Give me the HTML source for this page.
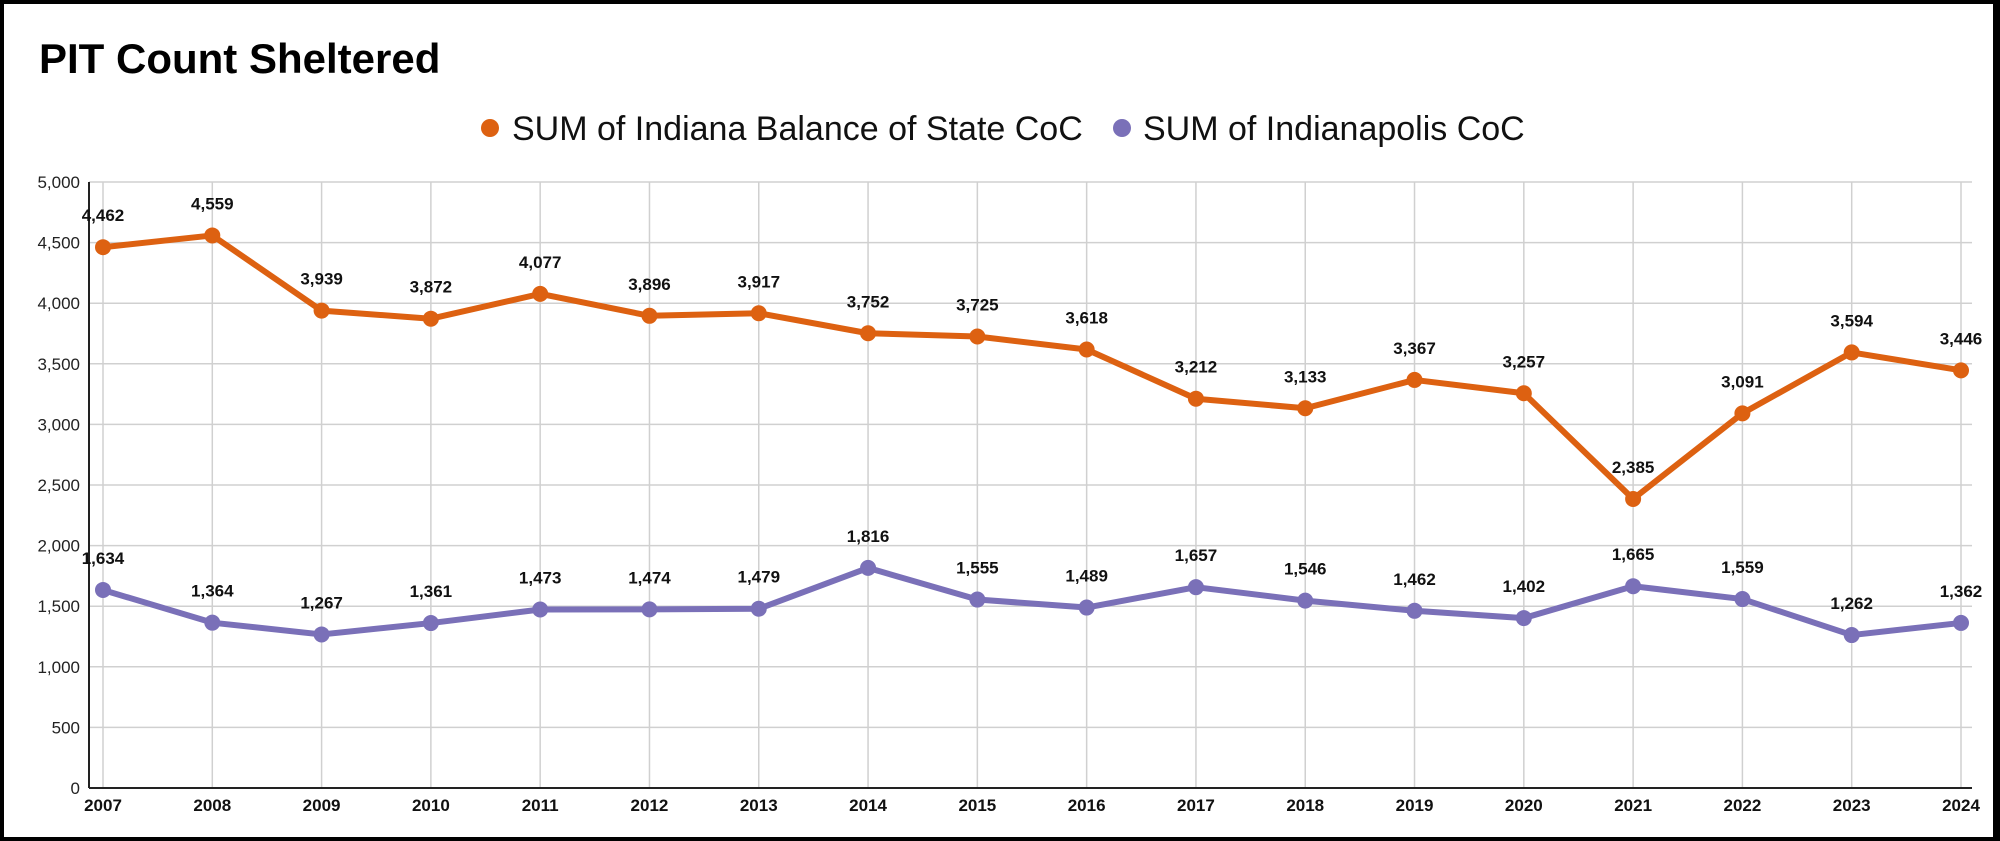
<!DOCTYPE html>
<html><head><meta charset="utf-8"><style>
html,body{margin:0;padding:0;background:#fff}
#wrap{position:relative;width:2000px;height:841px;box-sizing:border-box;border:4px solid #000;border-right-width:7px;background:#fff;overflow:hidden}
svg text{font-family:"Liberation Sans",Arial,sans-serif}
</style></head><body>
<div id="wrap">
<svg id="chart" width="2000" height="841" style="position:absolute;left:-4px;top:-4px">
<text x="39" y="73" font-size="42" font-weight="bold" fill="#000">PIT Count Sheltered</text>
<g>
<g>
<circle cx="490" cy="128" r="9" fill="#dd6111"></circle>
<text x="512" y="140" font-size="34" fill="#111">SUM of Indiana Balance of State CoC</text>
</g>
<g>
<circle cx="1122" cy="128" r="9" fill="#7a70b8"></circle>
<text x="1143" y="140" font-size="34" fill="#111">SUM of Indianapolis CoC</text>
</g>
</g>
<g id="grid"></g><g id="axes"></g><g id="series"></g>
</svg>
</div>
<script>
const years = [2007,2008,2009,2010,2011,2012,2013,2014,2015,2016,2017,2018,2019,2020,2021,2022,2023,2024];
const balanceOfState = [4462,4559,3939,3872,4077,3896,3917,3752,3725,3618,3212,3133,3367,3257,2385,3091,3594,3446];
const indianapolis = [1634,1364,1267,1361,1473,1474,1479,1816,1555,1489,1657,1546,1462,1402,1665,1559,1262,1362];
const yTicks = [0,500,1000,1500,2000,2500,3000,3500,4000,4500,5000];

const NS = "http://www.w3.org/2000/svg";
const plotLeft = 89, plotRight = 1972, plotBottom = 788, plotTop = 182;
const firstX = 103, lastX = 1961;
function xPos(i){ return firstX + (lastX - firstX) * i / (years.length - 1); }
function yPos(v){ return plotBottom - (plotBottom - plotTop) * v / 5000; }
function mk(tag, attrs, parent){ const e = document.createElementNS(NS, tag); for (const k in attrs) e.setAttribute(k, attrs[k]); parent.appendChild(e); return e; }
function fmt(v){ return v.toLocaleString('en-US'); }

const gridG = document.getElementById('grid');
const axesG = document.getElementById('axes');
const seriesG = document.getElementById('series');

yTicks.forEach(t => {
  const y = yPos(t);
  if (t > 0) {
    const l = mk('line', {x1:plotLeft, x2:plotRight, y1:y, y2:y, stroke:'#d0d0d0', 'stroke-width':1.5}, gridG);
    
    
  }
  const tx = mk('text', {x:80, y:y+6, 'text-anchor':'end', 'font-size':17, fill:'#222'}, axesG);
  tx.textContent = fmt(t);
  
  
});
years.forEach((yr, i) => {
  const x = xPos(i);
  const l = mk('line', {x1:x, x2:x, y1:plotTop, y2:plotBottom, stroke:'#d0d0d0', 'stroke-width':1.5}, gridG);
  
  
  const tx = mk('text', {x:x, y:811, 'text-anchor':'middle', 'font-size':17, 'font-weight':'bold', fill:'#111'}, axesG);
  tx.textContent = yr;
  
  
});
const ax = mk('line', {x1:plotLeft, x2:plotLeft, y1:plotTop, y2:plotBottom, stroke:'#222', 'stroke-width':2}, axesG);


const bx = mk('line', {x1:plotLeft, x2:plotRight, y1:plotBottom, y2:plotBottom, stroke:'#222', 'stroke-width':2}, axesG);



function drawSeries(vals, color, name){
  const g = mk('g', {}, seriesG);
  
  
  const pts = vals.map((v,i) => xPos(i) + ',' + yPos(v)).join(' ');
  const pl = mk('polyline', {points:pts, fill:'none', stroke:color, 'stroke-width':6, 'stroke-linejoin':'round'}, g);
  
  
  vals.forEach((v,i) => {
    const c = mk('circle', {cx:xPos(i), cy:yPos(v), r:8, fill:color}, g);
    
    
    const t = mk('text', {x:xPos(i), y:yPos(v)-26, 'text-anchor':'middle', 'font-size':17, 'font-weight':'bold', fill:'#111'}, g);
    t.textContent = fmt(v);
    
    
  });
}
drawSeries(balanceOfState, '#dd6111', 'balance-of-state');
drawSeries(indianapolis, '#7a70b8', 'indianapolis');
</script>
</body></html>
